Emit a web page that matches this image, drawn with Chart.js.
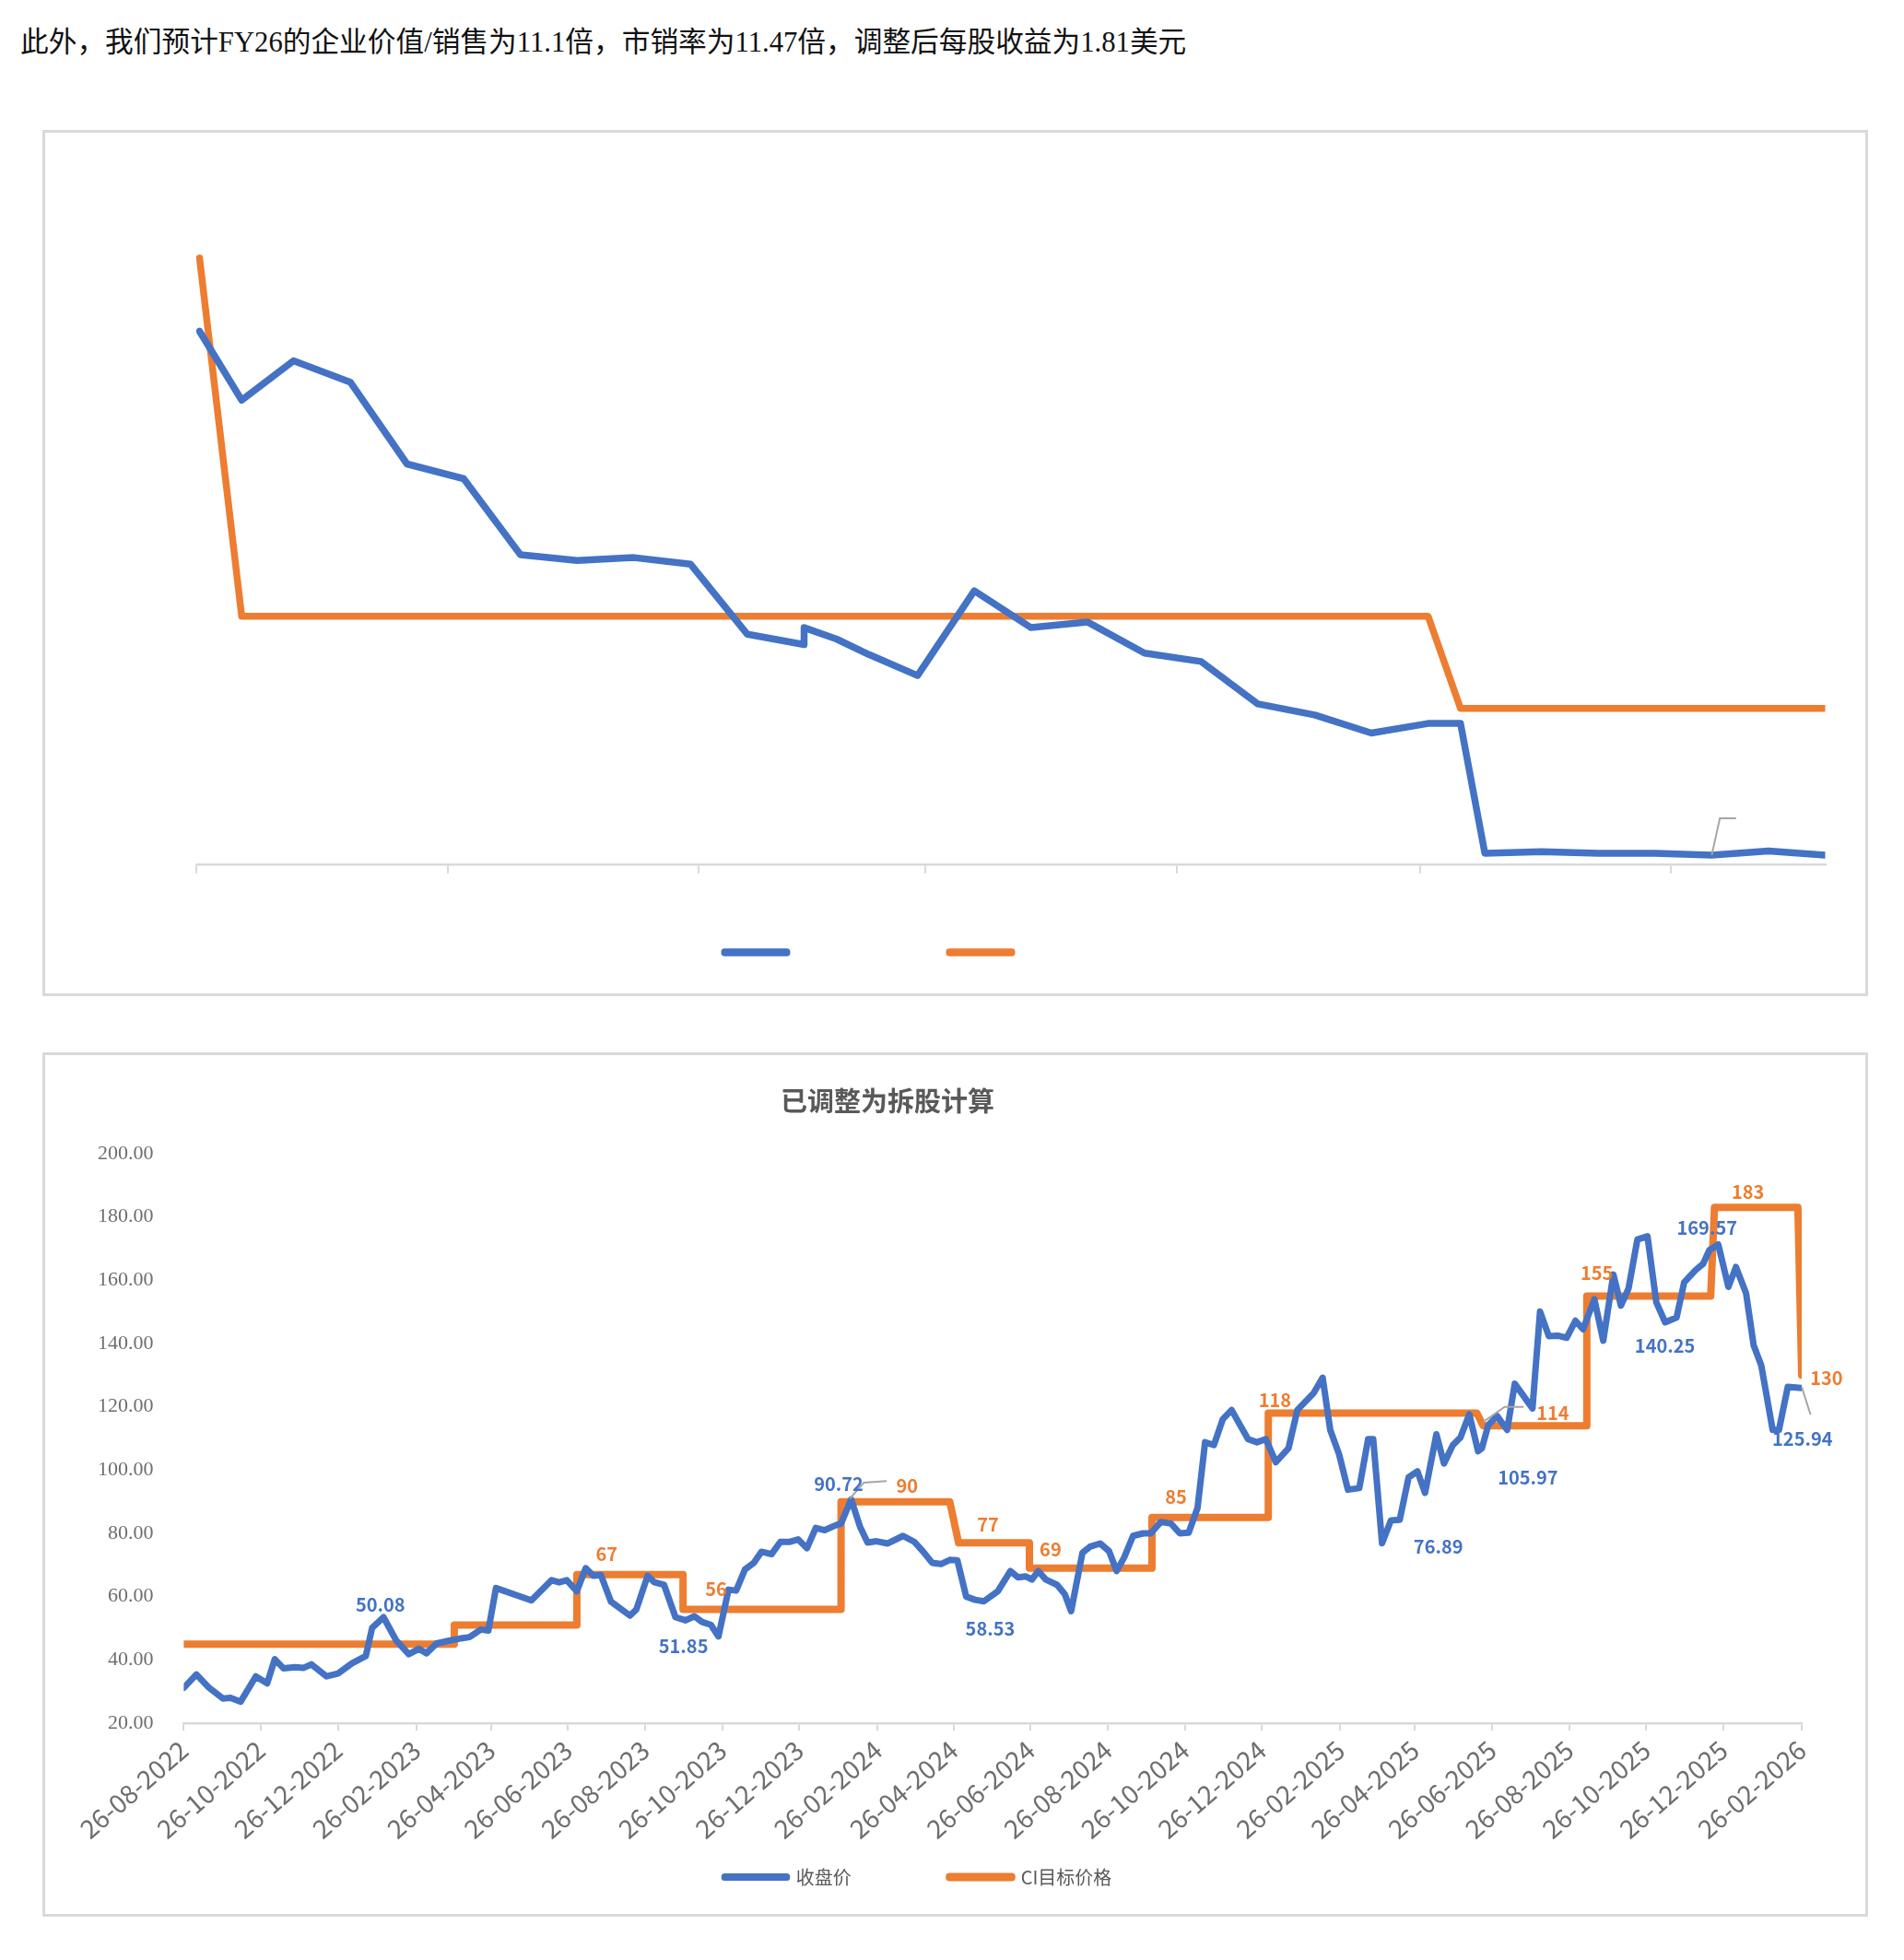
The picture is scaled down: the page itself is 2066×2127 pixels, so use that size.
<!DOCTYPE html>
<html>
<head>
<meta charset="utf-8">
<script src="https://cdn.jsdelivr.net/npm/chart.js@4.4.1/dist/chart.umd.min.js"></script>
<style>
  html, body { margin: 0; padding: 0; background: #ffffff; }
  body { width: 2066px; height: 2127px; position: relative; overflow: hidden; }
  #heading { position: absolute; left: 22px; top: 26px; font-family: "Liberation Serif", "Noto Sans CJK SC", serif; font-size: 30.7px; line-height: 40px; color: #111; white-space: nowrap; }
  .box { position: absolute; border: 3px solid #d9d9d9; box-sizing: border-box; }
  #box1 { left: 46px; top: 141px; width: 1981px; height: 940px; }
  #box2 { left: 46px; top: 1142px; width: 1981px; height: 938px; }
  canvas { position: absolute; left: 0; }
  #c1 { top: 141px; }
  #c2 { top: 1142px; }
</style>
</head>
<body>
<div id="heading">此外，我们预计FY26的企业价值/销售为11.1倍，市销率为11.47倍，调整后每股收益为1.81美元</div>
<div class="box" id="box1"></div>
<div class="box" id="box2"></div>
<canvas id="c1" width="2066" height="940"></canvas>
<canvas id="c2" width="2066" height="940"></canvas>
<script>
// ---------------- DATA: top chart (unlabelled, pre-split view) ----------------
// x: days from the first axis tick; y: price units (axis hidden in the original)
const topDays = [0.4,5.6,12,19,26,33,40,47,54,61,68,75,75,79,83,89,96,103,110,117,124,131,138,145,152,156,159,166,173,180,187,194,201];
const topPrice = [1448,1261,1368,1310,1088,1048,842,826,834,816,626,598,644,613,571,514,744,644,659,575,552,437,407,358,384,384,32,36,32,32,27,38,27];
const topTargetDays = [0.4,5.6,152,156,201];
const topTarget = [1647,675,675,425,425];
const topTickDays = [0,31,62,90,121,151,182];

// ---------------- DATA: bottom chart (split adjusted) ----------------
const seriesNames = ['收盘价', 'CI目标价格'];
const chartTitle = '已调整为拆股计算';
const xTickLabels = ['26-08-2022','26-10-2022','26-12-2022','26-02-2023','26-04-2023','26-06-2023','26-08-2023','26-10-2023','26-12-2023','26-02-2024','26-04-2024','26-06-2024','26-08-2024','26-10-2024','26-12-2024','26-02-2025','26-04-2025','26-06-2025','26-08-2025','26-10-2025','26-12-2025','26-02-2026'];
const yTicks = [20,40,60,80,100,120,140,160,180,200];
// days since 26-08-2022
const priceDays = [0,10,20,31,37,45,57,66,72,79,88,95,101,113,122,133,144,149,158,168,178,186,192,200,209,218,226,235,241,247,275,291,297,303,311,318,324,330,338,353,358,367,372,380,389,397,404,410,417,423,431,437,444,451,457,465,472,479,486,493,500,507,516,520,528,535,541,548,557,569,578,585,592,599,606,612,619,626,633,644,654,660,666,671,676,682,691,697,702,711,717,725,732,738,744,751,759,765,773,781,788,795,802,808,815,822,829,835,842,849,856,864,874,881,894,901,907,914,921,930,937,941,948,955,962,969,976,982,991,997,1004,1010,1017,1024,1027,1032,1039,1047,1053,1067,1073,1080,1087,1094,1101,1107,1116,1123,1131,1137,1143,1150,1158,1165,1172,1181,1187,1196,1202,1207,1214,1222,1228,1236,1242,1248,1257,1262,1269,1280];
const priceValues = [31.2,35.4,31.2,27.8,28.0,26.8,34.8,32.6,40.2,37.3,37.7,37.5,38.6,34.8,35.7,38.9,41.2,50.1,53.5,46.2,41.8,43.5,42.1,45.2,46.0,46.7,47.2,49.6,49.3,62.7,58.8,65.2,64.5,65.2,61.7,69.0,66.6,66.8,58.4,54.0,55.9,66.6,64.6,63.7,53.5,52.5,53.8,52.0,51.1,47.4,62.2,61.9,68.6,70.7,74.2,73.4,77.3,77.3,78.1,75.3,81.7,81.0,82.6,83.1,90.72,82.1,77.1,77.5,76.8,79.2,77.3,74.2,70.7,70.3,71.6,71.5,60.0,59.0,58.53,61.7,68.1,66.1,66.4,65.4,68.1,65.4,63.7,60.8,55.4,73.9,75.8,76.8,74.4,68.1,72.4,79.2,80.0,80.0,83.6,83.1,80.0,80.2,88.0,108.8,107.9,116.1,119.0,114.7,109.8,108.8,109.8,102.5,106.9,119.0,124.4,129.2,112.7,105.0,93.8,94.3,109.8,109.8,76.89,84.1,84.3,97.7,99.6,92.8,111.3,102.1,107.9,110.3,117.6,105.97,106.9,114.2,117.1,112.7,127.3,119.5,150.1,142.3,142.5,141.8,147.2,144.5,154.0,140.9,161.8,152.0,157.4,172.9,173.9,153.0,146.7,148.2,159.3,163.2,165.2,169.57,171.3,157.9,164.2,155.9,139.4,133.1,112.7,112.7,126.3,125.94];
const targetDays = [0,214,214,311,311,395,395,520,520,606,613,669,669,766,766,858,858,1023,1028,1110,1110,1208,1211,1277,1280];
const targetValues = [45,45,51,51,67,67,56,56,90,90,77,77,69,69,85,85,118,118,114,114,155,155,183,183,130];
// data labels: text and the data-space spot where the original placed them
const priceLabelText = ['50.08','51.85','90.72','58.53','76.89','105.97','140.25','169.57','125.94'];
const priceLabelDay = [155.6,395.3,518.1,638,992.5,1063.4,1171.8,1205.1,1280.6];
const priceLabelValue = [57.6,44.3,95.7,49.9,75.8,97.7,139.4,176.5,110];
const targetLabelText = ['67','56','90','77','69','85','118','114','155','183','130'];
const targetLabelDay = [334.6,421.1,572.3,636.2,685.7,784.9,863.2,1083.1,1117.9,1237.5,1299.6];
const targetLabelValue = [73.6,62.5,95.0,82.9,74.85,91.6,122.2,118.1,162.2,188,129.2];
// leader lines (data space)
const leaderLines = [
  [[527,91],[538,96],[556,96.5]],
  [[1028,115.2],[1045,120],[1060,120]],
  [[1280,126.3],[1287,117.5]]
];
const topLeaderLines = [[[187,27],[188,126.5],[190,126.5]]];

// ---------------- helpers ----------------
const BLUE = '#4472C4', ORANGE = '#ED7D31', GREY_TXT = '#595959', AXIS_TXT = '#6e6e6e', AXIS = '#d9d9d9', LEADER = '#a6a6a6';
const CJK = "'Noto Sans CJK SC', 'Noto Sans', sans-serif";
function parseDMY(s) { const [d, m, y] = s.split('-').map(Number); return Date.UTC(y, m - 1, d); }
const base = parseDMY(xTickLabels[0]);
const xTickDays = xTickLabels.map(s => Math.round((parseDMY(s) - base) / 86400000));
const pts = (xs, ys) => xs.map((x, i) => ({ x, y: ys[i] }));

const placePlugin = {
  id: 'place',
  afterLayout(chart, args, opts) {
    const lg = chart.legend;
    if (lg && opts.legend) {
      const P = lg.options.labels.padding;
      const f = lg.options.labels.font.size;
      const dx = opts.legend.x - (lg.left + P);
      const top = opts.legend.y - P - f / 2;
      lg.left += dx; lg.right = lg.left + 1600; lg.width = 1600;
      lg.top = top; lg.bottom = top + P + f + 20; lg.height = lg.bottom - lg.top;
    }
    const tb = chart.titleBlock;
    if (tb && opts.title) {
      const dx = opts.title.x - (tb.left + tb.right) / 2;
      tb.left += dx; tb.right += dx;
    }
  }
};

const annotPlugin = {
  id: 'annot',
  afterDatasetsDraw(chart, args, opts) {
    const { ctx } = chart; const x = chart.scales.x, y = chart.scales.y;
    ctx.save();
    (opts.leaders || []).forEach(line => {
      ctx.beginPath();
      line.forEach(([d, v], i) => {
        const px = x.getPixelForValue(d), py = y.getPixelForValue(v);
        if (i) ctx.lineTo(px, py); else ctx.moveTo(px, py);
      });
      ctx.strokeStyle = LEADER; ctx.lineWidth = 2; ctx.stroke();
    });
    (opts.groups || []).forEach(g => {
      ctx.font = opts.font; ctx.fillStyle = g.color; ctx.textAlign = 'center'; ctx.textBaseline = 'middle';
      g.text.forEach((t, i) => ctx.fillText(t, x.getPixelForValue(g.day[i]), y.getPixelForValue(g.value[i])));
    });
    ctx.restore();
  }
};

const lineStyle = (color, w) => ({ borderColor: color, backgroundColor: color, borderWidth: w, pointRadius: 0, pointHoverRadius: 0, tension: 0, borderJoinStyle: 'round', borderCapStyle: 'round', fill: false });

// ---------------- top chart ----------------
new Chart(document.getElementById('c1'), {
  type: 'line',
  data: { datasets: [
    Object.assign({ label: seriesNames[0], data: pts(topDays, topPrice) }, lineStyle(BLUE, 7.5)),
    Object.assign({ label: seriesNames[1], data: pts(topTargetDays, topTarget) }, lineStyle(ORANGE, 7.5))
  ]},
  options: {
    responsive: false, animation: false, devicePixelRatio: 1,
    layout: { padding: { left: 213, right: 85.5, top: 57.7, bottom: 131.3 } },
    plugins: {
      title: { display: false },
      tooltip: { enabled: false },
      legend: { display: true, position: 'bottom', align: 'start', maxHeight: 1,
        labels: { boxWidth: 67.5, boxHeight: 1, padding: 166.5, font: { family: CJK, size: 20 }, color: GREY_TXT,
          generateLabels: c => Chart.defaults.plugins.legend.labels.generateLabels(c).map(it => Object.assign(it, { text: '' })) } },
      place: { legend: { x: 786.25, y: 892.6 } },
      annot: { leaders: topLeaderLines, groups: [] }
    },
    scales: {
      x: { type: 'linear', min: topTickDays[0], max: topDays[topDays.length - 1],
        afterBuildTicks: s => { s.ticks = topTickDays.map(v => ({ value: v })); },
        afterFit: s => { s.height = 10; },
        ticks: { display: false },
        grid: { drawOnChartArea: false, drawTicks: true, tickLength: 9, color: AXIS, lineWidth: 2 },
        border: { display: true, color: AXIS, width: 2.5 } },
      y: { display: false, min: 0, max: 1850 }
    }
  },
  plugins: [placePlugin, annotPlugin]
});

// ---------------- bottom chart ----------------
new Chart(document.getElementById('c2'), {
  type: 'line',
  data: { datasets: [
    Object.assign({ label: seriesNames[0], data: pts(priceDays, priceValues) }, lineStyle(BLUE, 7)),
    Object.assign({ label: seriesNames[1], data: pts(targetDays, targetValues) }, lineStyle(ORANGE, 8))
  ]},
  options: {
    responsive: false, animation: false, devicePixelRatio: 1,
    layout: { padding: { left: 0, right: 111, top: 0, bottom: 61 } },
    plugins: {
      tooltip: { enabled: false },
      title: { display: true, text: chartTitle, color: GREY_TXT, font: { family: CJK, size: 29, weight: 'bold', lineHeight: 1.2 }, padding: { top: 35.6, bottom: 39.6 } },
      legend: { display: true, position: 'bottom', align: 'start', maxHeight: 1,
        labels: { boxWidth: 67.5, boxHeight: 1, padding: 106.5, font: { family: CJK, size: 20 }, color: GREY_TXT } },
      place: { legend: { x: 786.25, y: 895 }, title: { x: 963 } },
      annot: { leaders: leaderLines, font: "bold 20px " + CJK, groups: [
        { color: BLUE, text: priceLabelText, day: priceLabelDay, value: priceLabelValue },
        { color: ORANGE, text: targetLabelText, day: targetLabelDay, value: targetLabelValue }
      ] }
    },
    scales: {
      x: { type: 'linear', min: xTickDays[0], max: xTickDays[xTickDays.length - 1],
        afterBuildTicks: s => { s.ticks = xTickDays.map(v => ({ value: v })); },
        afterFit: s => { s.height = 150; },
        ticks: { autoSkip: false, minRotation: 41, maxRotation: 41, padding: 4, color: AXIS_TXT,
          font: { family: CJK, size: 28 }, callback: (v, i) => xTickLabels[i] },
        grid: { drawOnChartArea: false, drawTicks: true, tickLength: 8, color: AXIS, lineWidth: 2 },
        border: { display: true, color: AXIS, width: 2.5 } },
      y: { min: yTicks[0], max: yTicks[yTicks.length - 1],
        afterBuildTicks: s => { s.ticks = yTicks.map(v => ({ value: v })); },
        afterFit: s => { s.width = 199.4; },
        ticks: { padding: 33, color: AXIS_TXT, font: { family: "'Liberation Serif', serif", size: 22 }, callback: v => Number(v).toFixed(2) },
        grid: { display: false, drawTicks: false },
        border: { display: false } }
    }
  },
  plugins: [placePlugin, annotPlugin]
});
</script>
</body>
</html>
